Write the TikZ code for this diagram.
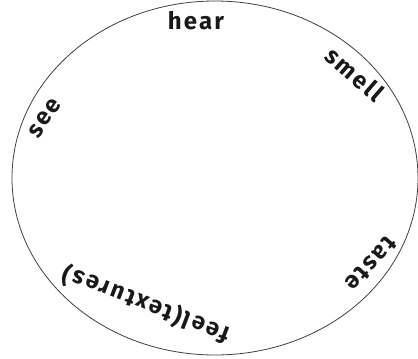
\documentclass[tikz,border=0pt]{standalone}
\usepackage{fontspec}
\newfontfamily\handfont[LetterSpace=9]{Fira Sans}
\usepackage{tikz}
\usetikzlibrary{positioning}

\begin{document}
\begin{tikzpicture}[x=1pt,y=-1pt,
  word/.style={font=\handfont\bfseries\fontsize{24}{26}\selectfont,inner sep=0pt,text=black!90},
  rim/.style={draw=black!75,line width=0.8pt}
]
\useasboundingbox (0,0) rectangle (418,359);
\coordinate (mid) at (215,178);
\draw[rim] (mid) ellipse [x radius=203, y radius=177];
\node[word] (hear) at (196,21) {hear};
\node[word,rotate=-41] (smell) at (355,74) {smell};
\node[word,rotate=55] (see) at (45,118) {see};
\node[word,rotate=-132] (taste) at (371,264) {taste};
\node[word,rotate=159] (feel) at (146,305) {feel(textures)};
\end{tikzpicture}
\end{document}
